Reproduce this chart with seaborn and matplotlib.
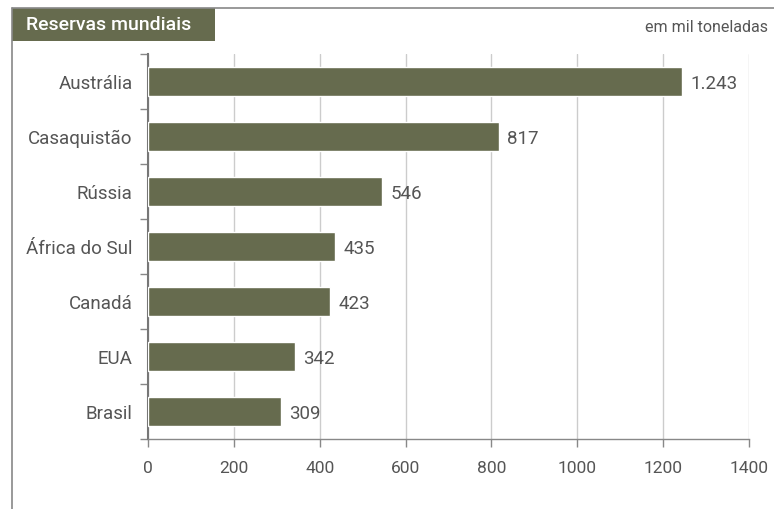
import numpy as np
import pandas as pd
import matplotlib
matplotlib.use('Agg')
import matplotlib.pyplot as plt
import seaborn as sns

# data
paises = ['Austrália', 'Casaquistão', 'Rússia', 'África do Sul', 'Canadá', 'EUA', 'Brasil']
reservas = [1243, 817, 546, 435, 423, 342, 309]
rotulos = ['1.243', '817', '546', '435', '423', '342', '309']
xticks = [0, 200, 400, 600, 800, 1000, 1200, 1400]

df = pd.DataFrame({'pais': paises, 'reserva': reservas})

sns.set_style('white')
plt.rcParams['font.family'] = ['Roboto', 'DejaVu Sans']

cor_barra = '#666b4e'
cor_texto = '#555555'

fig = plt.figure(figsize=(7.74, 5.09), dpi=100)
ax = fig.add_axes([148/774, 70/509, 601/774, 385/509])

sns.barplot(data=df, x='reserva', y='pais', color=cor_barra, saturation=1,
            width=0.52, ax=ax, zorder=3)

ax.set_xlim(0, 1400)
ax.set_ylim(6.5, -0.5)
ax.set_xticks(xticks)
ax.set_xticklabels([str(t) for t in xticks], fontsize=12.5, color=cor_texto)
ax.grid(axis='x', color='#cccccc', linewidth=1, zorder=0)
ax.grid(axis='y', visible=False)

# category labels, ticks at the boundaries
ax.set_yticks(np.arange(len(paises)))
ax.set_yticklabels(paises, fontsize=13.5, color=cor_texto)
ax.tick_params(axis='y', length=0, pad=11)
ax.set_yticks(np.arange(-0.5, len(paises)), minor=True)
ax.tick_params(axis='y', which='minor', length=6, width=1, color='#888888', left=True)
ax.tick_params(axis='x', length=6, width=1, color='#888888', bottom=True, pad=10)

for s in ['top', 'right']:
    ax.spines[s].set_visible(False)
ax.spines['left'].set_color('#777777')
ax.spines['left'].set_linewidth(1.5)
ax.spines['bottom'].set_color('#888888')
ax.spines['bottom'].set_linewidth(1)

ax.set_xlabel('')
ax.set_ylabel('')

for i, (v, r) in enumerate(zip(reservas, rotulos)):
    ax.text(v + 20, i + 0.05, r, va='center', ha='left', fontsize=13.5, color=cor_texto)

# frame and title box
fig.add_artist(plt.Line2D([12/774, 1], [1 - 8/509, 1 - 8/509], color='#888888', lw=1.2))
fig.add_artist(plt.Line2D([12/774, 12/774], [0, 1 - 8/509], color='#888888', lw=1.2))
fig.add_artist(plt.Rectangle((12/774, 1 - 41/509), 203/774, 33/509,
                             facecolor=cor_barra, edgecolor='none'))
fig.text(26/774, 1 - 25/509, 'Reservas mundiais', color='white', fontsize=14,
         fontweight='medium', va='center', ha='left')
fig.text(768/774, 1 - 28/509, 'em mil toneladas', color=cor_texto, fontsize=11.5,
         va='center', ha='right')

fig.savefig('out.png', dpi=100)
